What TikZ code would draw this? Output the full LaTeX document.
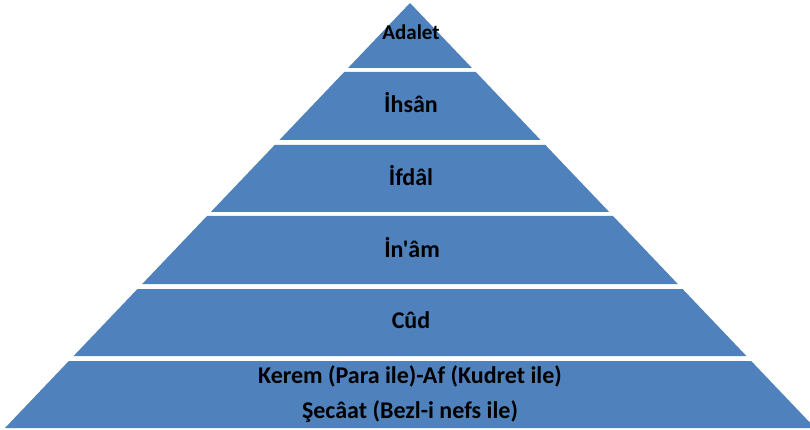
\documentclass[tikz,border=0pt]{standalone}
\usepackage{fontspec}
\setmainfont{Carlito}[Ligatures=TeXOff]
\definecolor{pyrblue}{HTML}{4F81BD}
\tikzset{
  band/.style={fill=pyrblue},
  lbl/.style={font=\bfseries\fontsize{24}{25}\selectfont, text=black, anchor=base, inner sep=0pt},
  lblsmall/.style={font=\bfseries\fontsize{21}{22}\selectfont, text=black, anchor=base, inner sep=0pt}
}
\begin{document}
\begin{tikzpicture}[x=1pt,y=-1pt]
\useasboundingbox (0,0) rectangle (810,430);
\fill[white] (0,0) rectangle (810,430);
% apex band
\fill[band] (410,3) -- ({410+0.953*65},68) -- ({410-0.953*65},68) -- cycle;
\foreach \t/\b in {72/140,145/212,216/284,289/356,361/428}{
  \fill[band] ({410-0.953*(\t-3)},\t) -- ({410+0.953*(\t-3)},\t)
     -- ({410+0.953*(\b-3)},\b) -- ({410-0.953*(\b-3)},\b) -- cycle;
}
\node[lblsmall] (adalet) at (411,40) {Adalet};
\node[lbl] (ihsan) at (411,113) {İhsân};
\node[lbl] (ifdal) at (411,186) {İfdâl};
\node[lbl] (inam) at (412,257) {İn'âm};
\node[lbl] (cud) at (411,328) {Cûd};
\node[lbl] (kerem) at (410,383) {Kerem (Para ile)-Af (Kudret ile)};
\node[lbl] (secaat) at (410,418) {Şecâat (Bezl-i nefs ile)};
\end{tikzpicture}
\end{document}
